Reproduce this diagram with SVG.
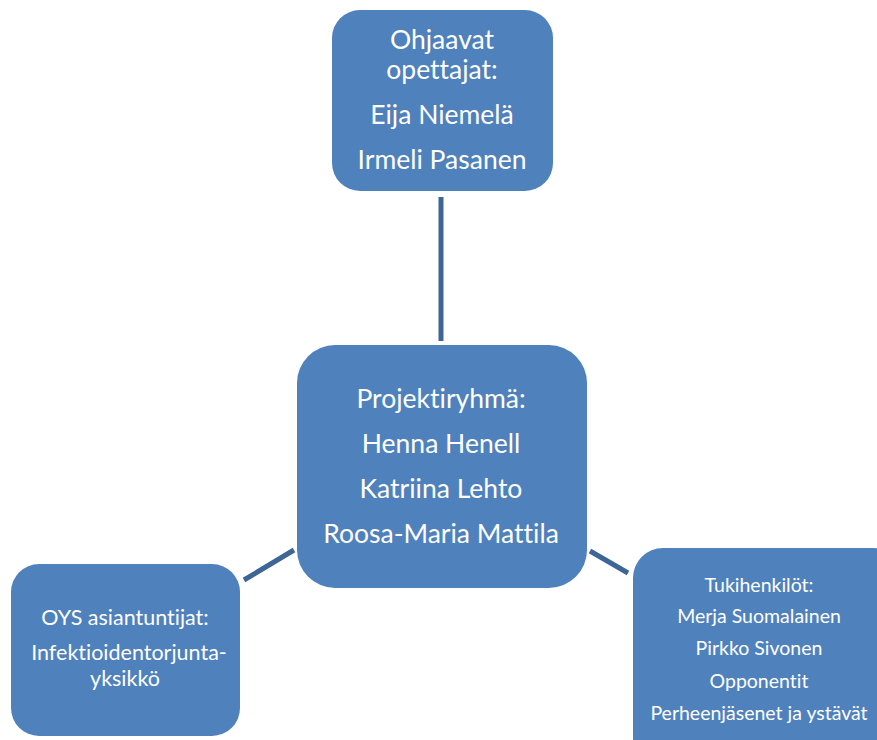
<svg xmlns="http://www.w3.org/2000/svg" width="877" height="740" viewBox="0 0 877 740">
<style>
.box{fill:#4F81BD;}
.t{font-family:Lato,"Open Sans","Liberation Sans",sans-serif;fill:#FFFFFF;text-anchor:middle;font-variant-ligatures:none;font-feature-settings:"liga" 0,"dlig" 0;}
.l{stroke:#3D6697;stroke-width:5;fill:none;}
</style>
<rect width="877" height="740" fill="#FFFFFF"/>
<g id="connectors">
<line class="l" x1="441" y1="197" x2="441" y2="341"/>
<line class="l" x1="244" y1="580" x2="294" y2="550"/>
<line class="l" x1="590" y1="551" x2="628" y2="573"/>
</g>
<g id="ohjaavat">
<rect class="box" x="332" y="10" width="221" height="181" rx="28"/>
<text class="t" font-size="26.5"><tspan x="442" y="49">Ohjaavat</tspan><tspan x="442" y="79">opettajat:</tspan><tspan x="442" y="124">Eija Niemelä</tspan><tspan x="442" y="169">Irmeli Pasanen</tspan></text>
</g>
<g id="projektiryhma">
<rect class="box" x="297" y="345" width="290" height="243" rx="38"/>
<text class="t" font-size="26.5"><tspan x="441" y="408">Projektiryhmä:</tspan><tspan x="441" y="453">Henna Henell</tspan><tspan x="441" y="498">Katriina Lehto</tspan><tspan x="441" y="543">Roosa-Maria Mattila</tspan></text>
</g>
<g id="oys">
<rect class="box" x="11" y="564" width="229" height="172" rx="28"/>
<text class="t" font-size="21.5"><tspan x="125" y="625">OYS asiantuntijat:</tspan></text>
<text class="t" font-size="21.5"><tspan x="129" y="660">Infektioidentorjunta-</tspan></text>
<text class="t" font-size="21.5"><tspan x="125" y="686">yksikkö</tspan></text>
</g>
<g id="tukihenkilot">
<rect class="box" x="633" y="548" width="270" height="220" rx="30"/>
<text class="t" font-size="19.5"><tspan x="759" y="592">Tukihenkilöt:</tspan><tspan x="759" y="623">Merja Suomalainen</tspan><tspan x="759" y="655">Pirkko Sivonen</tspan><tspan x="759" y="688">Opponentit</tspan><tspan x="759" y="720">Perheenjäsenet ja ystävät</tspan></text>
</g>
</svg>
